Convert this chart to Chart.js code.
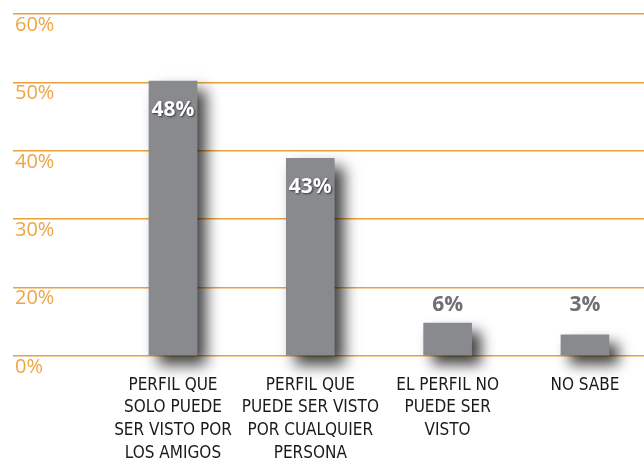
<!DOCTYPE html>
<html>
<head>
<meta charset="utf-8">
<script src="https://cdn.jsdelivr.net/npm/chart.js@4"></script>
<style>
  html, body { margin: 0; padding: 0; background: #ffffff; }
  #wrap { width: 644px; height: 462px; }
</style>
</head>
<body>
<div id="wrap"><canvas id="c" width="644" height="462"></canvas></div>
<script>
// categories (multi-line labels as drawn under the bars)
const categories = [
  ['PERFIL QUE', 'SOLO PUEDE', 'SER VISTO POR', 'LOS AMIGOS'],
  ['PERFIL QUE', 'PUEDE SER VISTO', 'POR CUALQUIER', 'PERSONA'],
  ['EL PERFIL NO', 'PUEDE SER', 'VISTO'],
  ['NO SABE']
]
// bar heights as drawn, counted in gridline steps (the axis skips 10%)
const barHeights = [4.02, 2.89, 0.48, 0.31]
// printed value labels
const valueLabels = ['48%', '43%', '6%', '3%']
// labels of the gridlines, bottom to top
const tickLabels = ['0%', '20%', '30%', '40%', '50%', '60%']

const ORANGE_GRID = '#E8A23A'
const ORANGE_TEXT = '#EFA543'
const BAR = '#898a8e'

// drop shadow under the bars
const barShadow = {
  id: 'barShadow',
  beforeDatasetsDraw(chart) {
    const ctx = chart.ctx
    ctx.save()
    ctx.shadowColor = 'rgba(0,0,0,0.75)'
    ctx.shadowBlur = 14
    ctx.shadowOffsetX = 9
    ctx.shadowOffsetY = 9
  },
  afterDatasetsDraw(chart) {
    chart.ctx.restore()
  }
}

// y labels sit just under each gridline, inside the plot
const yLabels = {
  id: 'yLabels',
  afterDraw(chart) {
    const ctx = chart.ctx
    const y = chart.scales.y
    ctx.save()
    ctx.font = '20px "Open Sans", sans-serif'
    ctx.fillStyle = ORANGE_TEXT
    ctx.textAlign = 'left'
    ctx.textBaseline = 'middle'
    tickLabels.forEach((t, i) => {
      ctx.fillText(t, 15, y.getPixelForValue(i) + 11)
    })
    ctx.restore()
  }
}

// value labels: white inside tall bars, gray above short ones
const valueText = {
  id: 'valueText',
  afterDatasetsDraw(chart) {
    const ctx = chart.ctx
    const meta = chart.getDatasetMeta(0)
    const y = chart.scales.y
    ctx.save()
    ctx.font = 'bold 21px "Open Sans", sans-serif'
    ctx.textAlign = 'center'
    ctx.textBaseline = 'middle'
    meta.data.forEach((bar, i) => {
      if (barHeights[i] > 1) {
        ctx.shadowColor = 'rgba(0,0,0,0.6)'
        ctx.shadowBlur = 2
        ctx.shadowOffsetX = 1
        ctx.shadowOffsetY = 1
        ctx.fillStyle = '#ffffff'
        ctx.fillText(valueLabels[i], bar.x, bar.y + 29)
      } else {
        ctx.shadowColor = 'rgba(0,0,0,0)'
        ctx.fillStyle = '#6f7074'
        ctx.fillText(valueLabels[i], bar.x, Math.min(bar.y - 15, y.getPixelForValue(0.75)))
      }
    })
    ctx.restore()
  }
}

new Chart(document.getElementById('c'), {
  type: 'bar',
  data: {
    datasets: [{
      data: barHeights.map((v, i) => ({ x: i, y: v })),
      backgroundColor: BAR,
      borderWidth: 0,
      barThickness: 48,
      clip: false
    }]
  },
  options: {
    responsive: false,
    animation: false,
    layout: { padding: { left: 13, top: 14, right: 0, bottom: 0 } },
    plugins: {
      legend: { display: false },
      tooltip: { enabled: false }
    },
    scales: {
      x: {
        type: 'linear',
        min: -1.165,
        max: 3.43,
        offset: false,
        afterBuildTicks(scale) {
          scale.ticks = categories.map((c, i) => ({ value: i }))
        },
        afterFit(scale) {
          scale.height = 106
        },
        ticks: {
          autoSkip: false,
          maxRotation: 0,
          padding: 18,
          color: '#1a1a1e',
          font: { family: '"Liberation Sans Narrow", "DejaVu Sans Condensed", sans-serif', size: 17, lineHeight: 1.33 },
          callback: (v) => categories[v]
        },
        grid: { display: false, drawTicks: false },
        border: { display: false }
      },
      y: {
        min: 0,
        max: 5,
        ticks: { stepSize: 1, display: false },
        grid: { color: ORANGE_GRID, lineWidth: 1.5, drawTicks: false },
        border: { display: false }
      }
    }
  },
  plugins: [barShadow, yLabels, valueText]
})
</script>
</body>
</html>
